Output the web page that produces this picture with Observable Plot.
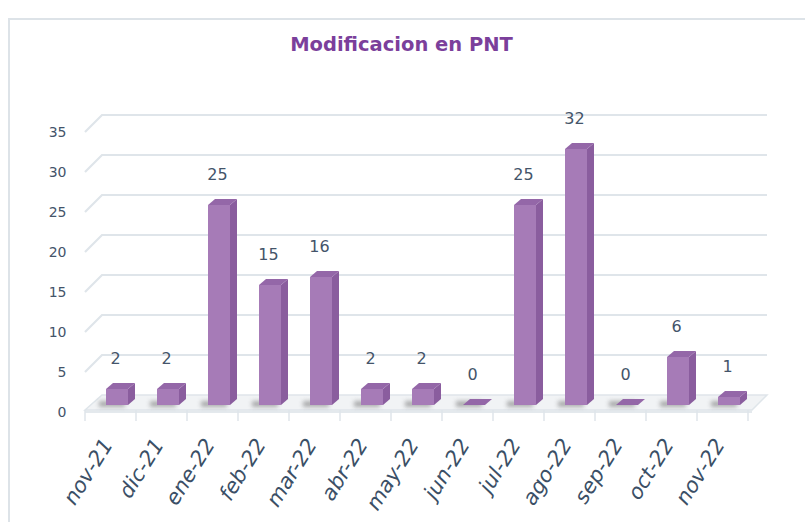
<!DOCTYPE html>
<html><head><meta charset="utf-8">
<script src="https://cdn.jsdelivr.net/npm/d3@7"></script>
<script src="https://cdn.jsdelivr.net/npm/@observablehq/plot@0.6"></script>
<style>
body{margin:0;background:#fff;}
#wrap{position:relative;width:805px;height:522px;overflow:hidden;font-family:"DejaVu Sans",Verdana,sans-serif;background:#fff;}
#border{position:absolute;left:8px;top:18px;width:830px;height:560px;border:2px solid #dde3e8;box-sizing:border-box;}
#title{position:absolute;left:0;top:34px;width:803px;text-align:center;font-weight:bold;font-size:19.5px;line-height:22px;color:#7b3f9b;}
#chart{position:absolute;left:0;top:0;}
</style></head><body>
<div id="wrap"><div id="border"></div><div id="title"></div><div id="chart"></div></div>
<script>
const chartTitle = "Modificacion en PNT";
const months = ["nov-21","dic-21","ene-22","feb-22","mar-22","abr-22","may-22","jun-22","jul-22","ago-22","sep-22","oct-22","nov-22"];
const counts = [2,2,25,15,16,2,2,0,25,32,0,6,1];
const yTicks = [0,5,10,15,20,25,30,35];

document.getElementById("title").textContent = chartTitle;
const data = months.map((m, i) => ({month: m, value: counts[i]}));

const gridColor = "#dfe5ea";
const textColor = "#44546a";

const gridMark = Plot.ruleY(yTicks, {
  render(index, scales, values, dims) {
    const g = d3.create("svg:g");
    const x0 = dims.marginLeft, x1 = dims.width - dims.marginRight;
    for (const v of yTicks) {
      if (v === 0) continue;
      const y = scales.y(v);
      g.append("path")
        .attr("d", `M${x0},${y + 7}L${x0 + 17},${y - 10}H${x1 + 15}`)
        .attr("fill", "none").attr("stroke", gridColor).attr("stroke-width", 2.2);
    }
    return g.node();
  }
});

const floorMark = Plot.ruleY([0], {
  render(index, scales, values, dims) {
    const g = d3.create("svg:g");
    const x0 = dims.marginLeft, x1 = dims.width - dims.marginRight;
    const y = scales.y(0);
    g.append("path")
      .attr("d", `M${x0},${y + 5}L${x0 + 17},${y - 10}H${x1 + 15}L${x1},${y + 5}Z`)
      .attr("fill", "#f1f3f5").attr("stroke", gridColor).attr("stroke-width", 1.5);
    g.append("rect").attr("x", x0).attr("y", y + 5).attr("width", x1 - x0).attr("height", 3)
      .attr("fill", "#e4e9ed");
    const step = scales.x.step();
    for (let k = 0; k <= months.length; k++) {
      const xx = x0 + k * step;
      g.append("line").attr("x1", xx).attr("x2", xx).attr("y1", y + 5).attr("y2", y + 16)
        .attr("stroke", gridColor).attr("stroke-width", 1.5);
    }
    return g.node();
  }
});

const barMark = Plot.barY(data, {
  x: "month", y: "value",
  render(index, scales, values, dims) {
    const g = d3.create("svg:g");
    const defs = g.append("defs");
    defs.append("filter").attr("id", "shadowBlur").attr("x", "-50%").attr("y", "-100%").attr("width", "200%").attr("height", "300%")
      .append("feGaussianBlur").attr("stdDeviation", 2.2);
    const bw = scales.x.bandwidth();
    const dx = 7, dy = 6, shift = 5;
    for (const i of index) {
      const d = data[i];
      const x0 = scales.x(d.month) + shift;
      const y0 = scales.y(0), y1 = scales.y(d.value);
      g.append("rect").attr("x", x0 - 7).attr("y", y0 - 4).attr("width", bw + 4).attr("height", 6)
        .attr("fill", "#666").attr("opacity", 0.5).attr("filter", "url(#shadowBlur)");
      g.append("path").attr("d", `M${x0 + bw},${y1}L${x0 + bw + dx},${y1 - dy}V${y0 - dy}L${x0 + bw},${y0}Z`).attr("fill", "#8a5d9e");
      g.append("path").attr("d", `M${x0},${y1}L${x0 + dx},${y1 - dy}H${x0 + bw + dx}L${x0 + bw},${y1}Z`).attr("fill", "#9467a8");
      g.append("rect").attr("x", x0).attr("y", y1).attr("width", bw).attr("height", Math.max(0, y0 - y1)).attr("fill", "#a67bb7");
    }
    return g.node();
  }
});

const chart = Plot.plot({
  width: 805,
  height: 522,
  marginLeft: 85,
  marginRight: 53,
  marginTop: 125,
  marginBottom: 117,
  style: {fontFamily: "'DejaVu Sans', Verdana, sans-serif", background: "transparent"},
  x: {domain: months, paddingInner: 0.56, paddingOuter: 0.28, axis: null},
  y: {domain: [0, 35], axis: null},
  marks: [
    gridMark,
    floorMark,
    barMark,
    Plot.text(yTicks, {y: d => d, text: d => String(d), frameAnchor: "left", dx: -19, dy: 7, textAnchor: "end", fontSize: 14, fill: textColor}),
    Plot.text(data, {x: "month", y: "value", text: d => String(d.value), dx: 3, dy: -31, fontSize: 16, fill: textColor}),
    Plot.text(months, {x: d => d, text: d => d, frameAnchor: "bottom", dx: 1, dy: 39, rotate: -58, textAnchor: "end", fontSize: 21, fontStyle: "italic", fill: "#3b4f66"})
  ]
});
document.getElementById("chart").appendChild(chart);
</script>
</body></html>
